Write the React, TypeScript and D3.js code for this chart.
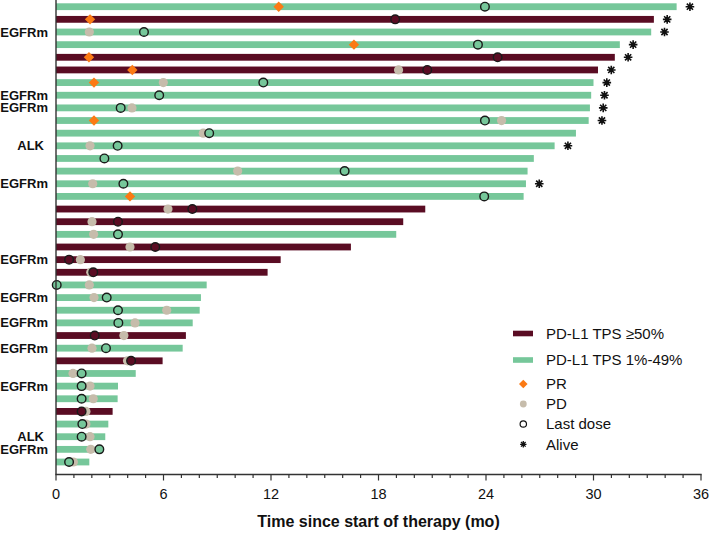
import React from "react";
import * as d3 from "d3";

// ---- data (months) ----
const tps: string[] = [
  "low", "high", "low", "low", "high", "high", "low", "low", "low", "low",
  "low", "low", "low", "low", "low", "low", "high", "high", "low", "high",
  "high", "high", "low", "low", "low", "low", "high", "low", "high", "low",
  "low", "low", "high", "low", "low", "low", "low",
];
const duration: number[] = [
  34.64, 33.37, 33.22, 31.47, 31.19, 30.25, 30.0, 29.87, 29.8, 29.73,
  29.02, 27.83, 26.67, 26.32, 26.23, 26.1, 20.61, 19.38, 18.99, 16.46,
  12.54, 11.81, 8.41, 8.09, 8.02, 7.63, 7.25, 7.07, 5.95, 4.45,
  3.46, 3.44, 3.16, 2.92, 2.75, 2.14, 1.86,
];
const prTime: (number | null)[] = [
  12.43, 1.9, null, 16.63, 1.84, 4.26, 2.12, null, null, 2.12,
  null, null, null, null, null, 4.13, null, null, null, null,
  null, null, null, null, null, null, null, null, null, null,
  null, null, null, null, null, null, null,
];
const pdTime: (number | null)[] = [
  null, null, 1.86, null, null, 19.12, 5.99, null, 4.24, 24.87,
  8.22, 1.9, null, 10.14, 2.05, null, 6.25, 2.01, 2.1, 4.13,
  1.36, 1.94, 1.86, 2.12, 6.18, 4.41, 3.79, 2.01, 3.99, 0.95,
  1.9, 2.08, 1.67, 1.67, 1.9, 1.94, 0.97,
];
const lastDose: (number | null)[] = [
  23.94, 18.93, 4.91, 23.55, 24.65, 20.72, 11.57, 5.76, 3.61, 23.94,
  8.55, 3.44, 2.7, 16.11, 3.76, 23.9, 7.61, 3.46, 3.46, 5.54,
  0.73, 2.08, 0.04, 2.83, 3.46, 3.48, 2.16, 2.79, 4.19, 1.43,
  1.43, 1.43, 1.43, 1.47, 1.43, 2.42, 0.73,
];
const alive: boolean[] = [
  true, true, true, true, true, true, true, true, true, true,
  false, true, false, false, true, false, false, false, false, false,
  false, false, false, false, false, false, false, false, false, false,
  false, false, false, false, false, false, false,
];
const rowLabels: string[] = [
  "", "", "EGFRm", "", "", "", "", "EGFRm", "EGFRm", "",
  "", "ALK", "", "", "EGFRm", "", "", "", "", "",
  "EGFRm", "", "", "EGFRm", "", "EGFRm", "", "EGFRm", "", "",
  "EGFRm", "", "", "", "ALK", "EGFRm", "",
];
const majorTicks: number[] = [0, 6, 12, 18, 24, 30, 36];
const minorTicks: number[] = d3.range(0, 37, 1);
const xTitle = "Time since start of therapy (mo)";
const legendItems: { key: string; label: string }[] = [
  { key: "high", label: "PD-L1 TPS \u226550%" },
  { key: "low", label: "PD-L1 TPS 1%-49%" },
  { key: "pr", label: "PR" },
  { key: "pd", label: "PD" },
  { key: "ld", label: "Last dose" },
  { key: "alive", label: "Alive" },
];

const COLORS: Record<string, string> = {
  high: "#5a0c23",
  low: "#76c79a",
  pr: "#fb7a14",
  pd: "#c6bcab",
  axis: "#333333",
};
const FONT = "Arial, 'Liberation Sans', Helvetica, sans-serif";

function asterisk(h: number) {
  const d = h * 0.72;
  return `M${-h},0L${h},0M0,${-h}L0,${h}M${-d},${-d}L${d},${d}M${-d},${d}L${d},${-d}`;
}
function diamond(h: number) {
  return `M0,${-h}L${h},0L0,${h}L${-h},0Z`;
}

export default function App() {
  const W = 709;
  const H = 534;
  const x = d3.scaleLinear().domain([0, 36]).range([56, 701]);
  const idx = d3.range(duration.length);
  const y = d3.scalePoint<number>().domain(idx).range([6.7, 462]);
  const axisY = 474.5;
  const barH = 6.8;

  return (
    <svg
      width={W}
      height={H}
      style={{ position: "absolute", left: 0, top: 0, background: "#fff" }}
      fontFamily={FONT}
    >
      {/* bars */}
      {idx.map((i) => (
        <rect
          key={"b" + i}
          x={x(0)}
          y={(y(i) as number) - barH / 2}
          width={x(duration[i]) - x(0)}
          height={barH}
          fill={COLORS[tps[i]]}
        />
      ))}
      {/* PD */}
      {idx.map((i) =>
        pdTime[i] == null ? null : (
          <circle key={"pd" + i} cx={x(pdTime[i] as number)} cy={y(i)} r={4.6} fill={COLORS.pd} />
        )
      )}
      {/* last dose */}
      {idx.map((i) =>
        lastDose[i] == null ? null : (
          <circle
            key={"ld" + i}
            cx={x(lastDose[i] as number)}
            cy={y(i)}
            r={4.3}
            fill={COLORS[tps[i]]}
            stroke="#1a1a1a"
            strokeWidth={1.4}
          />
        )
      )}
      {/* PR */}
      {idx.map((i) =>
        prTime[i] == null ? null : (
          <path
            key={"pr" + i}
            d={diamond(5.2)}
            transform={`translate(${x(prTime[i] as number)},${y(i)})`}
            fill={COLORS.pr}
          />
        )
      )}
      {/* alive */}
      {idx.map((i) =>
        !alive[i] ? null : (
          <g key={"al" + i} transform={`translate(${x(duration[i]) + 13.3},${y(i)})`}>
            <path d={asterisk(4.3)} stroke="#111" strokeWidth={1.6} />
            <circle r={1.8} fill="#111" />
          </g>
        )
      )}
      {/* row labels */}
      {idx.map((i) =>
        rowLabels[i] ? (
          <text
            key={"lab" + i}
            x={rowLabels[i] === "ALK" ? 44 : 48}
            y={(y(i) as number) + 4.6}
            textAnchor="end"
            fontSize={13}
            fontWeight="bold"
            fill="#111"
          >
            {rowLabels[i]}
          </text>
        ) : null
      )}
      {/* axes */}
      <line x1={x(0)} x2={x(0)} y1={0} y2={axisY} stroke={COLORS.axis} strokeWidth={1.4} />
      <line x1={x(0) - 0.7} x2={x(36) + 0.7} y1={axisY} y2={axisY} stroke={COLORS.axis} strokeWidth={1.4} />
      {minorTicks.map((t) => (
        <line
          key={"mt" + t}
          x1={x(t)}
          x2={x(t)}
          y1={axisY}
          y2={axisY + (t % 6 === 0 ? 6 : 3.5)}
          stroke={COLORS.axis}
          strokeWidth={1.2}
        />
      ))}
      {majorTicks.map((t) => (
        <text key={"tl" + t} x={x(t)} y={499} textAnchor="middle" fontSize={14.5} fill="#111">
          {t}
        </text>
      ))}
      <text
        x={(x(0) + x(36)) / 2}
        y={527}
        textAnchor="middle"
        fontSize={16}
        fontWeight="bold"
        fill="#111"
      >
        {xTitle}
      </text>
      {/* legend */}
      {legendItems.map((it, k) => {
        const ys = [333.5, 360, 384, 404, 424, 444.3];
        const cy = ys[k];
        const sx = 523.3;
        let sym: React.ReactNode = null;
        if (it.key === "high" || it.key === "low")
          sym = <rect x={513} y={cy - 2.8} width={20} height={5.6} fill={COLORS[it.key]} />;
        else if (it.key === "pr") sym = <path d={diamond(4.3)} transform={`translate(${sx},${cy})`} fill={COLORS.pr} />;
        else if (it.key === "pd") sym = <circle cx={sx} cy={cy} r={3.4} fill={COLORS.pd} />;
        else if (it.key === "ld")
          sym = <circle cx={sx} cy={cy} r={3.2} fill="none" stroke="#111" strokeWidth={1.2} />;
        else
          sym = (
            <g transform={`translate(${sx},${cy})`}>
              <path d={asterisk(3.2)} stroke="#111" strokeWidth={1.3} />
              <circle r={1.3} fill="#111" />
            </g>
          );
        return (
          <g key={"lg" + k}>
            {sym}
            <text x={546} y={cy + 5.3} fontSize={15} fill="#111">
              {it.label}
            </text>
          </g>
        );
      })}
    </svg>
  );
}
